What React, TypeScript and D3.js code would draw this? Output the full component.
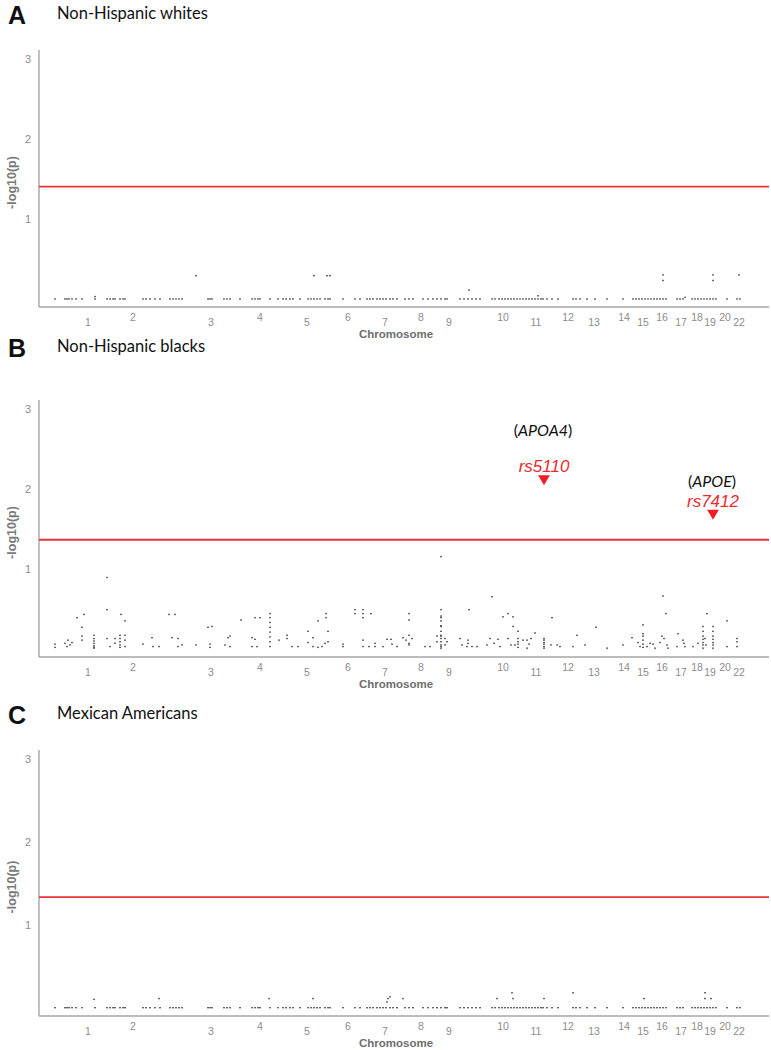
import { useEffect, useRef } from "react";
import * as d3 from "d3";

// chromosome label positions along the SNP index axis
const chromosomes = ["1", "2", "3", "4", "5", "6", "7", "8", "9", "10", "11", "12", "13", "14", "15", "16", "17", "18", "19", "20", "22"];
const chromMid = [49, 94, 172, 221, 268, 309, 346, 382, 410, 464, 497, 529, 555, 585, 604, 623, 642, 658, 671, 686, 700];

const yTicks = [1, 2, 3];

// SNPs sitting near -log10(p) = 0 (shared positions, panels A and C)
const nearZeroSnps = [
  16, 26, 28, 30, 33, 37, 43, 56, 68, 71, 74, 76, 81, 84, 86, 104, 107, 111, 116, 121, 131, 134, 137, 140, 143,
  169, 171, 173, 185, 188, 191, 201, 213, 216, 219, 221, 231, 239, 244, 247, 251, 254, 261, 269, 272, 275, 278, 281,
  286, 289, 291, 304, 316, 321, 328, 331, 334, 338, 341, 344, 347, 351, 354, 358, 366, 370, 374, 384, 389, 394, 398,
  402, 406, 408, 421, 425, 429, 433, 437, 441, 453, 456, 460, 463, 466, 469, 472, 475, 478, 481, 484, 487, 490, 493,
  496, 499, 502, 504, 508, 513, 519, 534, 537, 541, 548, 556, 568, 584, 594, 597, 600, 603, 606, 609, 612, 615, 618,
  621, 624, 627, 638, 641, 644, 653, 656, 659, 662, 665, 668, 671, 674, 677, 688, 698, 701,
];
const nhwNearZero = 0.01;
const maNearZero = 0.01;

// A: non-Hispanic whites, points above the floor [index, -log10 p]
const nhwPoints: [number, number][] = [
  [56, 0.04], [157, 0.3], [275, 0.3], [288, 0.3], [291, 0.3], [430, 0.12], [499, 0.05],
  [624, 0.31], [624, 0.24], [646, 0.03], [674, 0.31], [674, 0.24], [700, 0.31],
];

// B: non-Hispanic blacks
const nhbPoints: [number, number][] = [
  [16, 0.07], [16, 0.03], [26, 0.08], [29, 0.12], [31, 0.06], [33, 0.09], [28, 0.04],
  [38, 0.4], [45, 0.44], [43, 0.28], [43, 0.17], [43, 0.12],
  [55, 0.18], [55, 0.14], [55, 0.11], [55, 0.08], [55, 0.05], [55, 0.03], [55, 0.02],
  [68, 0.9], [68, 0.5], [68, 0.14], [71, 0.04], [76, 0.14], [76, 0.08],
  [81, 0.18], [81, 0.14], [81, 0.1], [81, 0.06], [81, 0.03], [82, 0.44],
  [86, 0.36], [86, 0.18], [86, 0.12], [86, 0.04],
  [104, 0.07], [113, 0.15], [114, 0.04], [120, 0.04], [130, 0.44], [136, 0.44],
  [133, 0.15], [139, 0.14], [139, 0.04], [143, 0.06], [157, 0.06],
  [169, 0.28], [173, 0.29], [171, 0.07], [171, 0.03],
  [186, 0.06], [189, 0.15], [191, 0.17], [191, 0.04], [202, 0.37],
  [213, 0.15], [216, 0.13], [213, 0.04], [218, 0.04], [216, 0.4], [221, 0.4],
  [231, 0.45], [231, 0.4], [231, 0.34], [231, 0.28], [231, 0.22], [231, 0.16], [231, 0.1], [231, 0.04],
  [240, 0.12], [248, 0.18], [248, 0.14], [253, 0.04], [259, 0.04],
  [269, 0.23], [269, 0.09], [274, 0.15], [274, 0.04], [279, 0.03], [283, 0.04], [279, 0.36],
  [287, 0.45], [287, 0.4], [289, 0.23], [289, 0.1], [286, 0.08], [304, 0.07], [304, 0.04],
  [316, 0.5], [316, 0.45], [324, 0.5], [324, 0.45], [324, 0.4], [332, 0.45],
  [324, 0.12], [324, 0.04], [330, 0.04], [336, 0.08], [336, 0.04],
  [344, 0.04], [348, 0.13], [352, 0.13], [353, 0.07], [358, 0.04],
  [364, 0.15], [367, 0.12], [370, 0.08], [373, 0.14], [370, 0.06], [370, 0.45], [370, 0.37], [370, 0.18],
  [386, 0.04], [391, 0.04], [398, 0.17], [398, 0.1],
  [402, 1.16], [402, 0.5], [402, 0.42], [402, 0.4], [402, 0.36], [402, 0.3], [402, 0.29], [402, 0.23],
  [402, 0.18], [402, 0.17], [402, 0.14], [402, 0.1], [402, 0.06], [402, 0.04], [402, 0.02],
  [406, 0.14], [406, 0.06], [408, 0.1],
  [421, 0.14], [423, 0.06], [428, 0.04], [429, 0.12], [429, 0.08], [433, 0.04], [438, 0.04], [430, 0.5],
  [453, 0.66], [448, 0.06], [451, 0.14], [455, 0.08], [459, 0.13], [461, 0.04],
  [464, 0.41], [469, 0.45], [474, 0.41], [469, 0.14], [472, 0.06], [476, 0.06], [474, 0.29], [479, 0.23],
  [479, 0.14], [479, 0.1], [479, 0.07], [479, 0.03],
  [484, 0.12], [488, 0.12], [490, 0.07], [492, 0.14], [496, 0.21], [488, 0.02],
  [505, 0.14], [505, 0.12], [505, 0.09], [505, 0.07], [505, 0.04], [505, 0.02],
  [512, 0.06], [518, 0.06], [521, 0.04], [513, 0.4],
  [534, 0.04], [538, 0.18], [546, 0.06], [557, 0.28], [568, 0.02], [584, 0.06], [593, 0.15],
  [604, 0.31], [604, 0.2], [604, 0.17], [604, 0.12], [604, 0.07], [604, 0.03],
  [599, 0.09], [601, 0.04], [608, 0.04], [611, 0.08], [614, 0.07], [616, 0.02],
  [624, 0.67], [627, 0.45], [623, 0.17], [625, 0.14], [628, 0.06], [629, 0.02], [621, 0.09],
  [639, 0.2], [638, 0.04], [644, 0.12], [646, 0.04], [645, 0.08], [654, 0.04], [659, 0.08],
  [664, 0.29], [664, 0.23], [664, 0.17], [664, 0.13], [664, 0.09], [664, 0.06], [664, 0.02],
  [668, 0.45], [666, 0.14], [667, 0.06],
  [674, 0.29], [674, 0.23], [674, 0.17], [674, 0.13], [674, 0.09], [674, 0.06], [674, 0.02],
  [688, 0.36], [688, 0.04], [698, 0.14], [698, 0.1], [698, 0.04],
];

// C: Mexican Americans
const maPoints: [number, number][] = [
  [55, 0.11], [120, 0.12], [230, 0.12], [274, 0.12], [348, 0.08], [349, 0.12], [351, 0.14],
  [364, 0.12], [458, 0.12], [473, 0.19], [474, 0.12], [505, 0.12], [534, 0.19], [605, 0.12],
  [666, 0.19], [666, 0.12], [672, 0.12],
];

// highlighted SNPs in panel B
const hits = [
  { snp: "rs5110", gene: "APOA4", idx: 505, value: 2.07 },
  { snp: "rs7412", gene: "APOE", idx: 674, value: 1.64 },
];

const panels = [
  { letter: "A", title: "Non-Hispanic whites", points: nhwPoints, floor: nhwNearZero, threshold: 1.41 },
  { letter: "B", title: "Non-Hispanic blacks", points: nhbPoints, floor: null, threshold: 1.37 },
  { letter: "C", title: "Mexican Americans", points: maPoints, floor: maNearZero, threshold: 1.34 },
];

const W = 771;
const H = 1050;
const frames = [
  { head: 15, top: 50, bottom: 307 },
  { head: 348, top: 400, bottom: 657 },
  { head: 715, top: 750, bottom: 1016 },
];

export default function App() {
  const ref = useRef<SVGSVGElement>(null);

  useEffect(() => {
    const svg = d3.select(ref.current);
    svg.selectAll("*").remove();

    const x = d3.scaleLinear().domain([0, 730]).range([39, 769]);
    const grey = "#8c8c8c";
    const labelFont = "'Liberation Sans', Arial, sans-serif";

    panels.forEach((p, i) => {
      const f = frames[i];
      const y = d3.scaleLinear().domain([-0.09, 3.11]).range([f.bottom, f.top]);
      const g = svg.append("g");

      // panel letter and title
      g.append("text")
        .attr("x", 8)
        .attr("y", f.head)
        .attr("dominant-baseline", "central")
        .attr("font-family", labelFont)
        .attr("font-weight", "bold")
        .attr("font-size", 25)
        .attr("fill", "#111")
        .text(p.letter);
      g.append("text")
        .attr("x", 57)
        .attr("y", f.head - 2)
        .attr("dominant-baseline", "central")
        .attr("font-family", "Lato, sans-serif")
        .attr("font-size", 16.5)
        .attr("fill", "#111")
        .text(p.title);

      // axes
      g.append("line")
        .attr("x1", x(0)).attr("x2", x(0))
        .attr("y1", f.top).attr("y2", f.bottom)
        .attr("stroke", "#a6a6a6").attr("stroke-width", 1.4);
      g.append("line")
        .attr("x1", x(0)).attr("x2", x(730))
        .attr("y1", f.bottom).attr("y2", f.bottom)
        .attr("stroke", "#a6a6a6").attr("stroke-width", 1.4);

      g.selectAll(".yt")
        .data(yTicks)
        .enter()
        .append("text")
        .attr("x", 28)
        .attr("y", (d) => y(d))
        .attr("text-anchor", "middle")
        .attr("dominant-baseline", "central")
        .attr("font-family", labelFont)
        .attr("font-size", 11)
        .attr("fill", grey)
        .text((d) => d);

      g.append("text")
        .attr("transform", `translate(12,${(f.top + f.bottom) / 2 + 4}) rotate(-90)`)
        .attr("text-anchor", "middle")
        .attr("dominant-baseline", "central")
        .attr("font-family", labelFont)
        .attr("font-weight", "bold")
        .attr("font-size", 12.5)
        .attr("fill", "#7a7a7a")
        .text("-log10(p)");

      g.selectAll(".xt")
        .data(chromosomes)
        .enter()
        .append("text")
        .attr("x", (_, k) => x(chromMid[k]))
        .attr("y", (d) => f.bottom + (+d % 2 === 0 && d !== "22" ? 10 : 15))
        .attr("text-anchor", "middle")
        .attr("dominant-baseline", "central")
        .attr("font-family", labelFont)
        .attr("font-size", 10.5)
        .attr("fill", grey)
        .text((d) => d);

      g.append("text")
        .attr("x", 396)
        .attr("y", f.bottom + 27)
        .attr("text-anchor", "middle")
        .attr("dominant-baseline", "central")
        .attr("font-family", labelFont)
        .attr("font-weight", "bold")
        .attr("font-size", 11.5)
        .attr("fill", "#6e6e6e")
        .text("Chromosome");

      // significance threshold
      g.append("line")
        .attr("x1", x(0)).attr("x2", x(730))
        .attr("y1", y(p.threshold)).attr("y2", y(p.threshold))
        .attr("stroke", "#e8353b").attr("stroke-width", 1.8);

      // SNP dots
      const dots: [number, number][] = [
        ...(p.floor != null ? nearZeroSnps.map((s) => [s, p.floor as number] as [number, number]) : []),
        ...p.points,
      ];
      g.append("g")
        .selectAll("rect")
        .data(dots)
        .enter()
        .append("rect")
        .attr("x", (d) => x(d[0]) - 0.9)
        .attr("y", (d) => y(d[1]) - 0.7)
        .attr("width", 1.8)
        .attr("height", 1.4)
        .attr("fill", "#3a3a3a")
        .attr("fill-opacity", 0.85);

      if (p.letter === "B") {
        const tri = d3.symbol().type(d3.symbolTriangle).size(60);
        hits.forEach((h) => {
          const hx = x(h.idx);
          const hy = y(h.value);
          g.append("path")
            .attr("d", tri())
            .attr("transform", `translate(${hx},${hy - 5}) rotate(180)`)
            .attr("fill", "#f01e24");
          g.append("text")
            .attr("x", hx)
            .attr("y", hy - 17)
            .attr("text-anchor", "middle")
            .attr("dominant-baseline", "central")
            .attr("font-family", labelFont)
            .attr("font-style", "italic")
            .attr("font-size", 17)
            .attr("fill", "#ea2a30")
            .text(h.snp);
          const lab = g.append("text")
            .attr("x", hx - 1)
            .attr("y", hy - 55 + (h.gene === "APOE" ? 17 : 0))
            .attr("text-anchor", "middle")
            .attr("dominant-baseline", "central")
            .attr("font-family", "Lato, sans-serif")
            .attr("font-size", 16)
            .attr("fill", "#111");
          lab.append("tspan").text("(");
          lab.append("tspan").attr("font-style", "italic").text(h.gene);
          lab.append("tspan").text(")");
        });
      }
    });
  }, []);

  return (
    <svg
      ref={ref}
      width={W}
      height={H}
      viewBox={`0 0 ${W} ${H}`}
      style={{ position: "absolute", left: 0, top: 0, background: "#fff" }}
    />
  );
}
